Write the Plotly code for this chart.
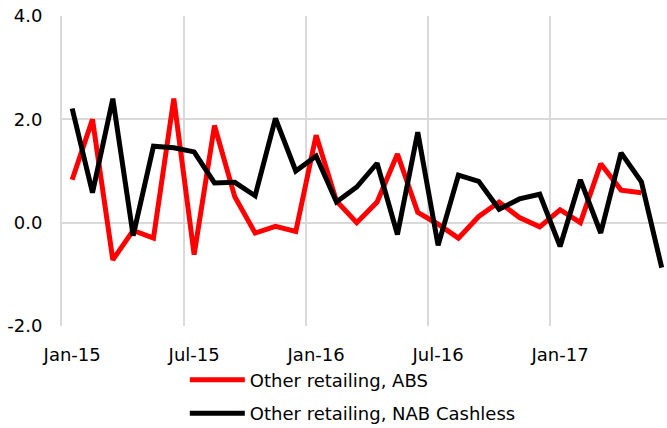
import plotly.graph_objects as go

months = ["Jan-15","Feb-15","Mar-15","Apr-15","May-15","Jun-15","Jul-15","Aug-15","Sep-15","Oct-15","Nov-15","Dec-15",
          "Jan-16","Feb-16","Mar-16","Apr-16","May-16","Jun-16","Jul-16","Aug-16","Sep-16","Oct-16","Nov-16","Dec-16",
          "Jan-17","Feb-17","Mar-17","Apr-17","May-17","Jun-17"]
abs_vals = [0.83, 2.0, -0.72, -0.15, -0.3, 2.4, -0.62, 1.88, 0.5, -0.2, -0.07, -0.17,
            1.69, 0.42, 0.0, 0.4, 1.33, 0.2, -0.03, -0.3, 0.12, 0.4, 0.1, -0.08,
            0.25, 0.0, 1.14, 0.63, 0.58, None]
nab_vals = [2.21, 0.58, 2.4, -0.25, 1.48, 1.45, 1.37, 0.77, 0.78, 0.52, 2.02, 1.0,
            1.29, 0.4, 0.69, 1.15, -0.23, 1.75, -0.44, 0.92, 0.8, 0.26, 0.46, 0.55,
            -0.46, 0.83, -0.2, 1.35, 0.79, -0.87]
label_idx = [0, 6, 12, 18, 24]
y_ticks = [-2.0, 0.0, 2.0, 4.0]
y_ticktext = ["-2.0", "0.0", "2.0", "4.0"]

x = list(range(len(months)))
FONT = "DejaVu Sans"
GRID = "#d9d9d9"
FS = 18

fig = go.Figure()
fig.add_trace(go.Scatter(x=x, y=abs_vals, mode="lines", name="Other retailing, ABS",
                         line=dict(color="#ff0000", width=5), legendgroup="a"))
fig.add_trace(go.Scatter(x=x, y=nab_vals, mode="lines", name="Other retailing, NAB Cashless",
                         line=dict(color="#000000", width=5), legendgroup="b"))

fig.update_layout(
    width=667, height=428,
    margin=dict(l=62, r=0, t=16, b=102, autoexpand=False),
    paper_bgcolor="white", plot_bgcolor="white",
    font=dict(family=FONT, size=FS, color="#000000"),
    showlegend=True,
    legend=dict(x=0.203, xanchor="left", y=-0.115, yanchor="top",
                itemwidth=55, tracegroupgap=7, font=dict(size=FS),
                bgcolor="rgba(0,0,0,0)"),
)
fig.update_xaxes(
    range=[-0.5, 29.26], automargin=False,
    tickmode="array", tickvals=label_idx, ticktext=[months[i] for i in label_idx],
    showgrid=False, zeroline=False, ticks="",
    showline=False, ticklabelstandoff=16,
    minor=dict(tick0=-0.5, dtick=6, showgrid=True, gridcolor=GRID, gridwidth=2, ticks=""),
    tickfont=dict(size=FS),
)
fig.update_yaxes(
    range=[-2, 4], automargin=False,
    tickmode="array", tickvals=y_ticks, ticktext=y_ticktext,
    showgrid=True, gridcolor=GRID, gridwidth=2, zeroline=False,
    showline=True, linecolor=GRID, linewidth=2,
    ticks="", ticklabelstandoff=14, tickfont=dict(size=FS),
)

fig.write_html("out.html")
